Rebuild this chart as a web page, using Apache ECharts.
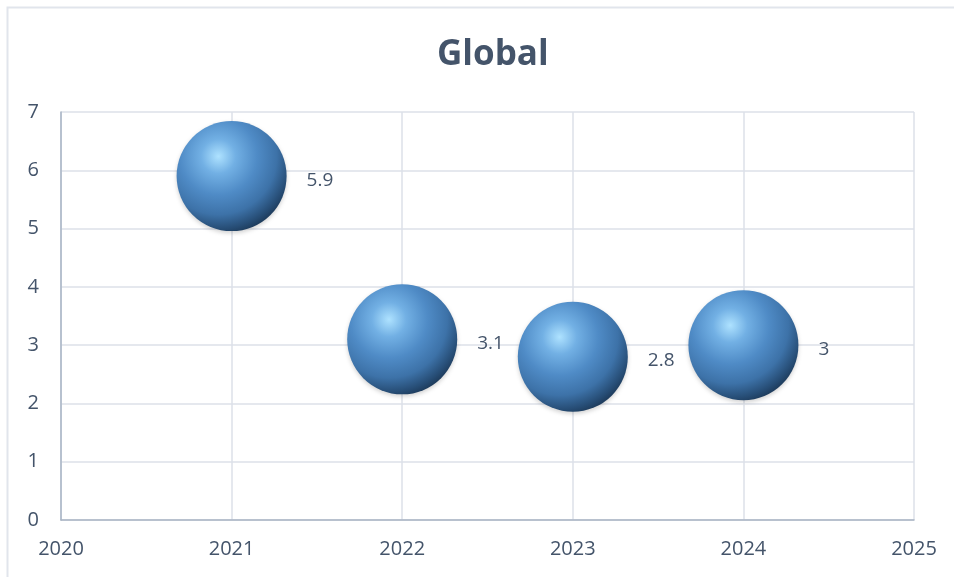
<!DOCTYPE html>
<html><head><meta charset="utf-8">
<script src="https://cdn.jsdelivr.net/npm/echarts@6/dist/echarts.min.js"></script>
<style>html,body{margin:0;padding:0;background:#fff}#c{width:954px;height:577px}</style>
</head><body><div id="c"></div>
<script>
const titleText = 'Global';
const years = [2021, 2022, 2023, 2024];
const values = [5.9, 3.1, 2.8, 3];
const bubbleSizes = [1, 1, 1, 1];

const chart = echarts.init(document.getElementById('c'));
const textColor = '#44546a';
const font = 'Open Sans';
const sphere = {
  type: 'radial', x: 0.38, y: 0.32, r: 0.78,
  colorStops: [
    {offset: 0, color: '#aee2ff'},
    {offset: 0.2, color: '#72b0e4'},
    {offset: 0.45, color: '#4f8bc6'},
    {offset: 0.68, color: '#3d72a8'},
    {offset: 0.85, color: '#264c74'},
    {offset: 1, color: '#14283f'}
  ]
};
chart.setOption({
  animation: false,
  title: {
    text: titleText, left: 432, top: 33,
    textStyle: {color: textColor, fontFamily: font, fontWeight: 'bold', fontSize: 35}
  },
  graphic: [{
    type: 'rect', shape: {x: 7.5, y: 7.5, width: 960, height: 600},
    style: {fill: 'none', stroke: '#e1e5ec', lineWidth: 2}, silent: true
  }],
  grid: {left: 61, right: 40, top: 112, bottom: 57},
  xAxis: {
    type: 'value', min: 2020, max: 2025, interval: 1,
    axisLine: {show: true, lineStyle: {color: '#a9b4c4', width: 1.5}},
    axisTick: {show: false},
    splitLine: {show: true, lineStyle: {color: '#dde1e8', width: 1.5}},
    axisLabel: {color: textColor, fontFamily: font, fontSize: 20, margin: 19, formatter: v => String(v)}
  },
  yAxis: {
    type: 'value', min: 0, max: 7, interval: 1,
    axisLine: {show: true, lineStyle: {color: '#a9b4c4', width: 1.5}},
    axisTick: {show: false},
    splitLine: {show: true, lineStyle: {color: '#dde1e8', width: 1.5}},
    axisLabel: {color: textColor, fontFamily: font, fontSize: 20, margin: 22}
  },
  series: [{
    type: 'scatter',
    data: years.map((y, i) => [y, values[i], bubbleSizes[i]]),
    symbolSize: d => 110 * Math.sqrt(d[2]),
    itemStyle: {color: sphere, opacity: 1, shadowColor: 'rgba(0,0,0,0.18)', shadowBlur: 4, shadowOffsetY: 2},
    label: {
      show: true, position: 'right', distance: 20, offset: [0, 4],
      formatter: p => String(p.value[1]),
      color: textColor, fontFamily: font, fontSize: 19
    }
  }]
});
</script></body></html>
